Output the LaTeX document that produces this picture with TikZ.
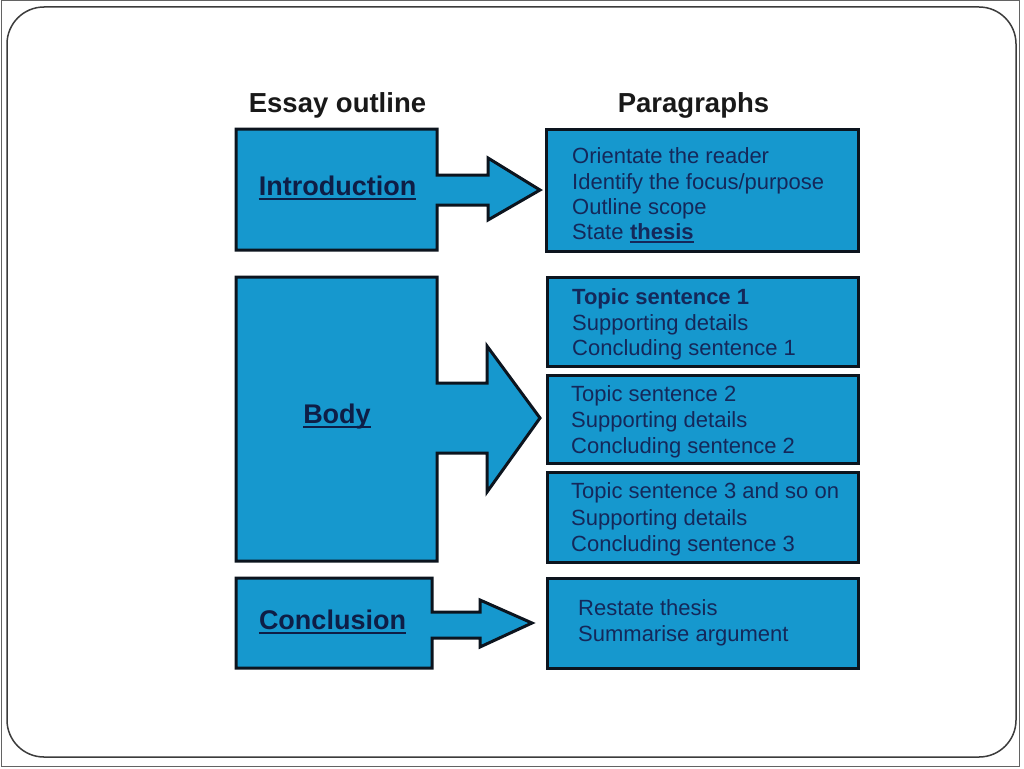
\documentclass[tikz,border=0pt]{standalone}
\usepackage{fontspec}
\setmainfont{Liberation Sans}
\definecolor{boxblue}{RGB}{22,152,206}
\definecolor{edgecol}{RGB}{12,20,30}
\definecolor{navy}{RGB}{14,30,70}
\definecolor{txtblue}{RGB}{20,40,90}
\definecolor{framegray}{RGB}{60,60,60}
\begin{document}
\begin{tikzpicture}[x=1pt,y=-1pt,
  shapefill/.style={fill=boxblue,draw=edgecol,line width=3pt,line join=miter},
  pbox/.style={rectangle,fill=boxblue,draw=edgecol,line width=3pt,inner sep=0pt},
  txt/.style={anchor=base west,inner sep=0pt,text=txtblue,font=\fontsize{22}{26}\selectfont},
  lbl/.style={anchor=base,inner sep=0pt,text=navy,font=\fontsize{27}{30}\selectfont\bfseries},
  head/.style={anchor=base,inner sep=0pt,text=black!90,font=\fontsize{27.5}{30}\selectfont\bfseries},
  uline/.style={draw=navy,line width=2pt},
  tuline/.style={draw=txtblue,line width=1.5pt}]
\useasboundingbox (0,0) rectangle (1024,768);
\fill[white] (0,0) rectangle (1024,768);
\draw[framegray!80,line width=1pt] (1,1) rectangle (1019,766);
\draw[framegray,line width=1.5pt,rounded corners=37pt] (7,7) rectangle (1016,757);

% headings
\node[head] (hleft) at (337.5,112) {Essay outline};
\node[head] (hright) at (693.5,112) {Paragraphs};

% left block arrows
\draw[shapefill] (236,129) -- (437,129) -- (437,175) -- (488,175) -- (488,158) -- (540,190)
  -- (488,220) -- (488,205) -- (437,205) -- (437,250) -- (236,250) -- cycle;
\draw[shapefill] (236,277) -- (437,277) -- (437,383) -- (487,383) -- (487,346) -- (540,418)
  -- (487,492) -- (487,453) -- (437,453) -- (437,561) -- (236,561) -- cycle;
\draw[shapefill] (236,578) -- (432,578) -- (432,612) -- (480,612) -- (480,600) -- (532,623)
  -- (480,647) -- (480,638) -- (432,638) -- (432,668) -- (236,668) -- cycle;

\node[lbl] (intro) at (337.5,195) {Introduction};
\node[lbl] (body) at (337,423) {Body};
\node[lbl] (concl) at (332.5,629) {Conclusion};
\draw[uline] ([yshift=-4pt]intro.base west) -- ([yshift=-4pt]intro.base east);
\draw[uline] ([yshift=-4pt]body.base west) -- ([yshift=-4pt]body.base east);
\draw[uline] ([yshift=-4pt]concl.base west) -- ([yshift=-4pt]concl.base east);

% paragraph boxes
\node[pbox,minimum width=312pt,minimum height=122pt] (pintro) at (702,190) {};
\node[pbox,minimum width=311pt,minimum height=89pt] (pb1) at (702.5,321.5) {};
\node[pbox,minimum width=311pt,minimum height=88pt] (pb2) at (702.5,419) {};
\node[pbox,minimum width=311pt,minimum height=90pt] (pb3) at (702.5,517) {};
\node[pbox,minimum width=311pt,minimum height=90pt] (pconc) at (702.5,623) {};

% texts
\node[txt] (i1) at (572,163) {Orientate the reader};
\node[txt] (i2) at (572,189) {Identify the focus/purpose};
\node[txt] (i3) at (572,214) {Outline scope};
\node[txt] (i4) at (572,239) {State};
\node[txt] (i4b) at ([xshift=6.1pt]i4.base east) {\bfseries thesis};
\draw[tuline] ([yshift=-3pt]i4b.base west) -- ([yshift=-3pt]i4b.base east);

\node[txt] (a1) at (572,304) {\bfseries Topic sentence 1};
\node[txt] (a2) at (572,330) {Supporting details};
\node[txt] (a3) at (572,355) {Concluding sentence 1};

\node[txt] (b1) at (571,401) {Topic sentence 2};
\node[txt] (b2) at (571,427) {Supporting details};
\node[txt] (b3) at (571,453) {Concluding sentence 2};

\node[txt] (c1) at (571,498) {Topic sentence 3 and so on};
\node[txt] (c2) at (571,525) {Supporting details};
\node[txt] (c3) at (571,551) {Concluding sentence 3};

\node[txt] (d1) at (578,615) {Restate thesis};
\node[txt] (d2) at (578,641) {Summarise argument};
\end{tikzpicture}
\end{document}
